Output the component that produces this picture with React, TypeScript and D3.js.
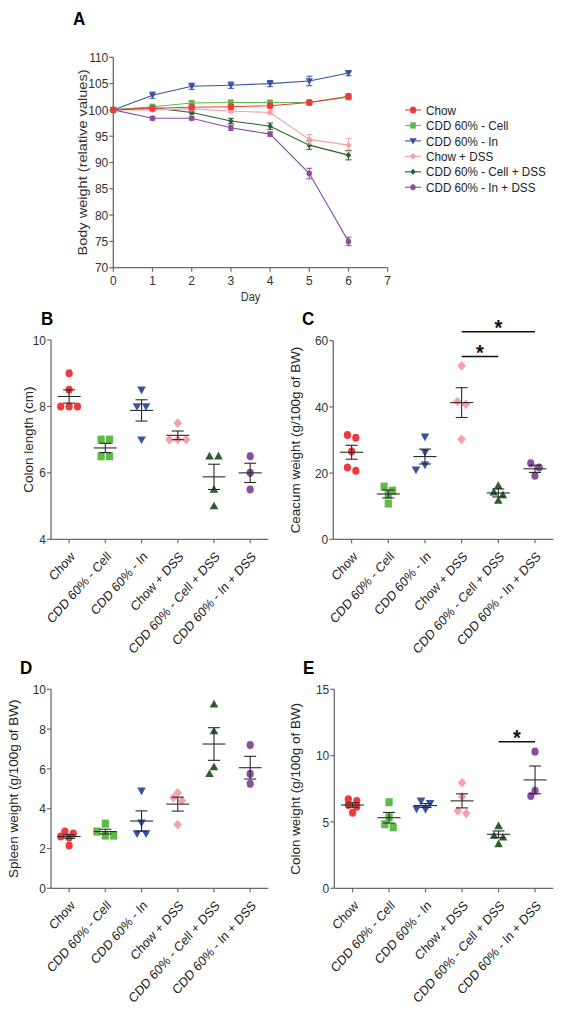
import React from "react";
import * as d3 from "d3";

const FONT = "'Liberation Sans', Arial, Helvetica, sans-serif";
const SY = 1.12; // vertical stretch of the reference figure

// ---------- Data ----------
const GROUPS = ["Chow", "CDD 60% - Cell", "CDD 60% - In", "Chow + DSS", "CDD 60% - Cell + DSS", "CDD 60% - In + DSS"];

// Panel A: body weight (relative values) by day
const DAYS = [0, 1, 2, 3, 4, 5, 6];
const BW_CHOW = [100, 100.3, 100.5, 100.6, 100.8, 101.4, 102.6];
const BW_CELL = [100, 100.6, 101.3, 101.4, 101.4, 101.4, 102.4];
const BW_IN = [100, 102.8, 104.5, 104.7, 105.0, 105.5, 107.0];
const BW_CHOW_DSS = [100, 100.0, 100.2, 99.8, 99.5, 94.4, 93.3];
const BW_CELL_DSS = [100, 100.4, 99.5, 97.9, 96.9, 93.3, 91.4];
const BW_IN_DSS = [100, 98.4, 98.4, 96.6, 95.4, 87.9, 75.0];
const BW_CHOW_SEM = [0, 0.3, 0.3, 0.4, 0.4, 0.3, 0.4];
const BW_CELL_SEM = [0, 0.3, 0.3, 0.3, 0.3, 0.3, 0.4];
const BW_IN_SEM = [0, 0.6, 0.6, 0.6, 0.6, 0.9, 0.5];
const BW_CHOW_DSS_SEM = [0, 0.3, 0.3, 0.3, 0.3, 0.9, 1.3];
const BW_CELL_DSS_SEM = [0, 0.3, 0.3, 0.5, 0.6, 0.8, 0.9];
const BW_IN_DSS_SEM = [0, 0.3, 0.3, 0.5, 0.4, 1.0, 0.8];
const A_Y_TICKS = [70, 75, 80, 85, 90, 95, 100, 105, 110];
const A_X_TICKS = [0, 1, 2, 3, 4, 5, 6, 7];

// Panel B: colon length (cm)
const COLON_LENGTH_POINTS = [[9.0, 8.5, 8.0, 8.0, 8.0], [7.0, 7.0, 6.5, 6.5], [8.5, 8.0, 8.0, 7.0], [7.5, 7.0, 7.0, 7.0], [6.5, 6.5, 5.5, 5.0], [6.5, 6.0, 5.5]];
const COLON_LENGTH_MEAN = [8.3, 6.75, 7.88, 7.13, 5.88, 6.0];
const COLON_LENGTH_SEM = [0.2, 0.14, 0.32, 0.13, 0.38, 0.29];
const B_TICKS = [4, 6, 8, 10];

// Panel C: caecum weight (g/100g of BW)
const CAECUM_POINTS = [[31.5, 30.7, 26.5, 21.7, 20.7], [15.9, 14.7, 13.5, 10.8], [31.0, 26.3, 22.5, 21.0], [52.4, 41.6, 40.8, 30.2], [16.2, 14.2, 13.4, 11.7], [23.0, 21.7, 19.2]];
const CAECUM_MEAN = [26.3, 13.7, 25.0, 41.3, 14.0, 21.3];
const CAECUM_SEM = [2.1, 1.2, 2.25, 4.5, 1.2, 1.1];
const C_TICKS = [0, 20, 40, 60];
const C_SIG = [{ from: 3, to: 5, y: 62.7 }, { from: 3, to: 4, y: 55.2 }];

// Panel D: spleen weight (g/100g of BW)
const SPLEEN_POINTS = [[2.85, 2.75, 2.6, 2.55, 2.15], [3.25, 2.85, 2.65, 2.65], [4.9, 3.3, 2.75, 2.75], [4.8, 4.55, 4.4, 3.2], [9.25, 7.9, 6.1, 5.75], [7.2, 5.75, 5.25]];
const SPLEEN_MEAN = [2.6, 2.85, 3.38, 4.23, 7.25, 6.06];
const SPLEEN_SEM = [0.09, 0.12, 0.51, 0.35, 0.82, 0.57];
const D_TICKS = [0, 2, 4, 6, 8, 10];

// Panel E: colon weight (g/100g of BW)
const COLON_WEIGHT_POINTS = [[6.71, 6.58, 6.28, 6.15, 5.7], [6.49, 5.35, 4.83, 4.6], [6.6, 6.41, 6.0, 5.96], [7.96, 6.91, 5.83, 5.65], [4.7, 3.97, 3.84, 3.34], [10.3, 7.36, 6.96]];
const COLON_WEIGHT_MEAN = [6.28, 5.32, 6.24, 6.59, 4.07, 8.17];
const COLON_WEIGHT_SEM = [0.17, 0.4, 0.15, 0.53, 0.25, 1.05];
const E_TICKS = [0, 5, 10, 15];
const E_SIG = [{ from: 4, to: 5, y: 11.05 }];

// ---------- Styles ----------
const COLORS = ["#ec3a3d", "#5dbb46", "#3a52a3", "#f4a2a8", "#2e5d2f", "#8a4e9e"];
const SHAPES_A = ["circle", "square", "tridown", "diamond", "diamond", "circle"];
const SHAPES = ["circle", "square", "tridown", "diamond", "triup", "circle"];
const AXIS = "#6a6a6a";
const INK = "#2a2a2a";
const TXT = "#333";

function shapePath(shape: string, r: number): string {
  switch (shape) {
    case "square":
      return `M${-r},${-r}h${2 * r}v${2 * r}h${-2 * r}Z`;
    case "tridown":
      return `M${-r * 1.2},${-r * 0.8}L${r * 1.2},${-r * 0.8}L0,${r * 1.1}Z`;
    case "triup":
      return `M${-r * 1.2},${r * 0.8}L${r * 1.2},${r * 0.8}L0,${-r * 1.1}Z`;
    case "diamond":
      return `M0,${-r * 1.2}L${r * 1.2},0L0,${r * 1.2}L${-r * 1.2},0Z`;
    default:
      return `M${-r},0a${r},${r} 0 1,0 ${2 * r},0a${r},${r} 0 1,0 ${-2 * r},0Z`;
  }
}

function Marker({ shape, x, y, r, color }: { shape: string; x: number; y: number; r: number; color: string }) {
  return <path d={shapePath(shape, r)} transform={`translate(${x},${y}) scale(1,${SY})`} fill={color} />;
}

function T({ x, y, rot, children, size = 12, anchor = "start", weight = "normal", fill = TXT }: any) {
  return (
    <text
      transform={`translate(${x},${y}) scale(1,${SY})${rot ? ` rotate(${rot})` : ""}`}
      fontSize={size}
      textAnchor={anchor}
      fontWeight={weight}
      fill={fill}
      fontFamily={FONT}
    >
      {children}
    </text>
  );
}

// Simple symmetric beeswarm: rows of near-equal values are centred, rows that collide get spread.
function swarmOffsets(py: number[], s = 8.4, binH = 4.6, d = 5.6): number[] {
  const order = py.map((_, i) => i).sort((a, b) => py[a] - py[b]);
  const bins: number[][] = [];
  let cur: number[] = [];
  let start = -Infinity;
  for (const i of order) {
    if (cur.length && py[i] - start > binH) {
      bins.push(cur);
      cur = [];
    }
    if (!cur.length) start = py[i];
    cur.push(i);
  }
  if (cur.length) bins.push(cur);
  const out = new Array(py.length).fill(0);
  const placed: { x: number; y: number }[] = [];
  const cands = [[1, 0], [1, -0.5], [1, 0.5], [2, 0], [2, -0.5], [2, 0.5], [1, -1], [1, 1], [3, 0]];
  for (const bin of bins) {
    const n = bin.length;
    let best: number[] | null = null;
    for (const [k, sh] of cands) {
      const xs = bin.map((_, j) => (j - (n - 1) / 2) * s * k + sh * s);
      const ok = bin.every((i, j) => placed.every((p) => Math.hypot(p.x - xs[j], p.y - py[i]) >= d));
      if (ok) {
        best = xs;
        break;
      }
    }
    if (!best) best = bin.map((_, j) => (j - (n - 1) / 2) * s * 2);
    bin.forEach((i, j) => {
      out[i] = best![j];
      placed.push({ x: best![j], y: py[i] });
    });
  }
  return out;
}

// ---------- Panel A ----------
const A_SERIES = [
  { name: GROUPS[0], mean: BW_CHOW, sem: BW_CHOW_SEM },
  { name: GROUPS[1], mean: BW_CELL, sem: BW_CELL_SEM },
  { name: GROUPS[2], mean: BW_IN, sem: BW_IN_SEM },
  { name: GROUPS[3], mean: BW_CHOW_DSS, sem: BW_CHOW_DSS_SEM },
  { name: GROUPS[4], mean: BW_CELL_DSS, sem: BW_CELL_DSS_SEM },
  { name: GROUPS[5], mean: BW_IN_DSS, sem: BW_IN_DSS_SEM },
];
const A_MARKER_R = [3.2, 2.8, 3.0, 2.5, 2.3, 2.7];

function PanelA() {
  const L = 113.3, R = 387.7, TOP = 57.3, BOT = 267.7;
  const x = d3.scaleLinear().domain([0, 7]).range([L, R]);
  const y = d3.scaleLinear().domain([70, 110]).range([BOT, TOP]);
  const order = [5, 4, 3, 2, 1, 0];
  return (
    <g>
      <T x={73} y={25} size={17} weight="bold" fill="#000">A</T>
      <line x1={L} x2={L} y1={TOP} y2={BOT} stroke={AXIS} strokeWidth={1.3} />
      <line x1={L} x2={R} y1={BOT} y2={BOT} stroke={AXIS} strokeWidth={1.3} />
      {A_Y_TICKS.map((t) => (
        <g key={t}>
          <line x1={L - 4} x2={L} y1={y(t)} y2={y(t)} stroke={AXIS} strokeWidth={1.2} />
          <T x={L - 5} y={y(t) + 4.6} anchor="end">{t}</T>
        </g>
      ))}
      {A_X_TICKS.map((t) => (
        <g key={t}>
          <line x1={x(t)} x2={x(t)} y1={BOT} y2={BOT + 4} stroke={AXIS} strokeWidth={1.2} />
          <T x={x(t)} y={BOT + 17} anchor="middle">{t}</T>
        </g>
      ))}
      <T x={(L + R) / 2} y={301} anchor="middle" size={11}>Day</T>
      <T x={86.5} y={(TOP + BOT) / 2} rot={-90} anchor="middle" size={13}>Body weight (relative values)</T>
      {order.map((si) => {
        const s = A_SERIES[si];
        const line = d3.line<number>().x((_, i) => x(DAYS[i])).y((d) => y(d));
        return (
          <g key={si}>
            <path d={line(s.mean) || ""} fill="none" stroke={COLORS[si]} strokeWidth={1.1} />
            {s.mean.map((m, i) =>
              s.sem[i] > 0 ? (
                <g key={i} stroke={COLORS[si]} strokeWidth={1}>
                  <line x1={x(DAYS[i])} x2={x(DAYS[i])} y1={y(m - s.sem[i])} y2={y(m + s.sem[i])} />
                  <line x1={x(DAYS[i]) - 3} x2={x(DAYS[i]) + 3} y1={y(m - s.sem[i])} y2={y(m - s.sem[i])} />
                  <line x1={x(DAYS[i]) - 3} x2={x(DAYS[i]) + 3} y1={y(m + s.sem[i])} y2={y(m + s.sem[i])} />
                </g>
              ) : null
            )}
            {s.mean.map((m, i) => (
              <Marker key={"m" + i} shape={SHAPES_A[si]} x={x(DAYS[i])} y={y(m)} r={A_MARKER_R[si]} color={COLORS[si]} />
            ))}
          </g>
        );
      })}
      {A_SERIES.map((s, i) => {
        const ly = 110 + i * 15.45;
        return (
          <g key={s.name}>
            <line x1={405} x2={421} y1={ly} y2={ly} stroke={COLORS[i]} strokeWidth={1.1} />
            <Marker shape={SHAPES_A[i]} x={413} y={ly} r={A_MARKER_R[i]} color={COLORS[i]} />
            <T x={426} y={ly + 4.6} size={11.7} fill="#222">{s.name}</T>
          </g>
        );
      })}
    </g>
  );
}

// ---------- Scatter panels ----------
type Sig = { from: number; to: number; y: number };
function ScatterPanel(props: {
  letter: string; letterX: number; letterY: number;
  L: number; R: number; TOP: number; BOT: number;
  domain: [number, number]; ticks: number[];
  points: number[][]; mean: number[]; sem: number[];
  title: string; titleX: number; sig?: Sig[];
}) {
  const { L, R, TOP, BOT } = props;
  const x = d3.scaleBand<string>().domain(GROUPS).range([L, R]).padding(0);
  const y = d3.scaleLinear().domain(props.domain).range([BOT, TOP]);
  const cx = (i: number) => (x(GROUPS[i]) as number) + x.bandwidth() / 2;
  return (
    <g>
      <T x={props.letterX} y={props.letterY} size={17} weight="bold" fill="#000">{props.letter}</T>
      <line x1={L} x2={L} y1={TOP} y2={BOT} stroke={AXIS} strokeWidth={1.3} />
      <line x1={L} x2={R} y1={BOT} y2={BOT} stroke={AXIS} strokeWidth={1.3} />
      {props.ticks.map((t) => (
        <g key={t}>
          <line x1={L - 4} x2={L} y1={y(t)} y2={y(t)} stroke={AXIS} strokeWidth={1.2} />
          <T x={L - 5} y={y(t) + 4.6} anchor="end">{t}</T>
        </g>
      ))}
      {GROUPS.map((g, i) => (
        <g key={g}>
          <line x1={cx(i)} x2={cx(i)} y1={BOT} y2={BOT + 4} stroke={AXIS} strokeWidth={1.2} />
          <T x={cx(i) + 6.5} y={BOT + 18} rot={-45} anchor="end" fill="#222">{g}</T>
        </g>
      ))}
      <T x={props.titleX} y={(TOP + BOT) / 2} rot={-90} anchor="middle" fill="#222">{props.title}</T>
      {props.points.map((vals, gi) => {
        const py = vals.map((v) => y(v));
        const tri = SHAPES[gi].startsWith("tri");
        const off = tri ? swarmOffsets(py, 9, 4.6, 7) : swarmOffsets(py);
        return (
          <g key={"p" + gi}>
            {vals.map((v, k) => (
              <Marker key={k} shape={SHAPES[gi]} x={cx(gi) + off[k]} y={py[k]} r={3.6} color={COLORS[gi]} />
            ))}
          </g>
        );
      })}
      {props.mean.map((m, gi) => {
        const c = cx(gi);
        const hi = y(m + props.sem[gi]);
        const lo = y(m - props.sem[gi]);
        return (
          <g key={"m" + gi} stroke={INK} strokeWidth={1.1}>
            <line x1={c - 11.5} x2={c + 11.5} y1={y(m)} y2={y(m)} />
            <line x1={c} x2={c} y1={hi} y2={lo} />
            <line x1={c - 6} x2={c + 6} y1={hi} y2={hi} />
            <line x1={c - 6} x2={c + 6} y1={lo} y2={lo} />
          </g>
        );
      })}
      {(props.sig || []).map((s, i) => (
        <g key={"s" + i}>
          <line x1={cx(s.from)} x2={cx(s.to)} y1={y(s.y)} y2={y(s.y)} stroke="#111" strokeWidth={1.5} />
          <T x={(cx(s.from) + cx(s.to)) / 2} y={y(s.y) + 3} anchor="middle" size={20} weight="bold" fill="#111">*</T>
        </g>
      ))}
    </g>
  );
}

export default function App() {
  return (
    <svg
      width={563}
      height={1016}
      viewBox="0 0 563 1016"
      style={{ position: "absolute", left: 0, top: 0, background: "#fff", display: "block" }}
    >
      <rect width={563} height={1016} fill="#fff" />
      <PanelA />
      <ScatterPanel
        letter="B" letterX={41} letterY={325}
        L={51} R={268.3} TOP={340} BOT={539.3}
        domain={[4, 10]} ticks={B_TICKS}
        points={COLON_LENGTH_POINTS} mean={COLON_LENGTH_MEAN} sem={COLON_LENGTH_SEM}
        title="Colon length (cm)" titleX={32.5}
      />
      <ScatterPanel
        letter="C" letterX={302} letterY={325}
        L={333.3} R={553.3} TOP={340.7} BOT={539.3}
        domain={[0, 60]} ticks={C_TICKS}
        points={CAECUM_POINTS} mean={CAECUM_MEAN} sem={CAECUM_SEM}
        title="Ceacum weight (g/100g of BW)" titleX={299.5} sig={C_SIG}
      />
      <ScatterPanel
        letter="D" letterX={20} letterY={674}
        L={51} R={268.3} TOP={689.3} BOT={888.3}
        domain={[0, 10]} ticks={D_TICKS}
        points={SPLEEN_POINTS} mean={SPLEEN_MEAN} sem={SPLEEN_SEM}
        title="Spleen weight (g/100g of BW)" titleX={18}
      />
      <ScatterPanel
        letter="E" letterX={303} letterY={674}
        L={334.3} R={553.3} TOP={689.3} BOT={888.3}
        domain={[0, 15]} ticks={E_TICKS}
        points={COLON_WEIGHT_POINTS} mean={COLON_WEIGHT_MEAN} sem={COLON_WEIGHT_SEM}
        title="Colon weight (g/100g of BW)" titleX={299.5} sig={E_SIG}
      />
    </svg>
  );
}
